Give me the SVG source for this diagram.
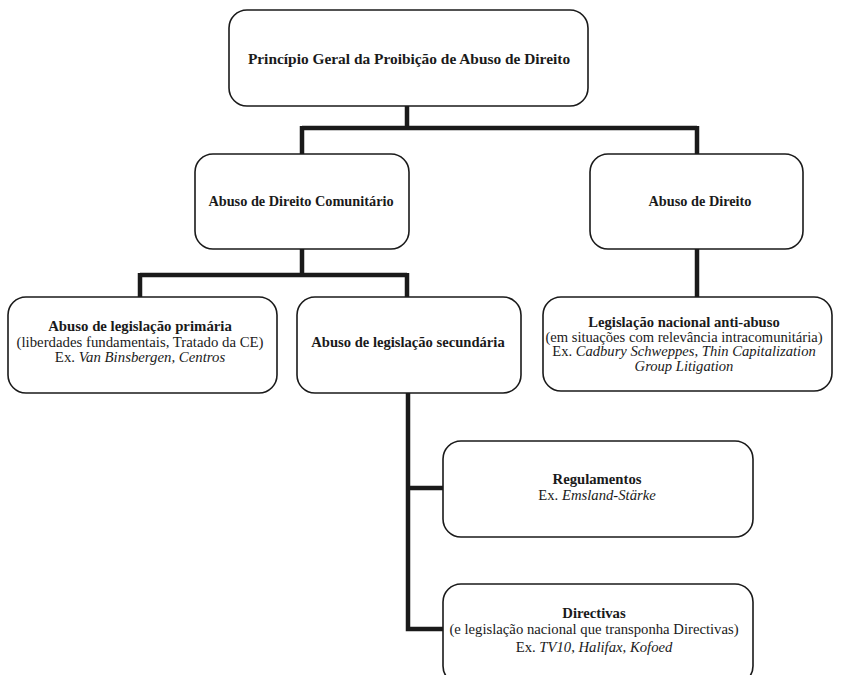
<svg xmlns="http://www.w3.org/2000/svg" width="841" height="675" viewBox="0 0 841 675">
<style>
.box{fill:#fff;stroke:#1a1a1a;stroke-width:1.6}
text{font-family:'Liberation Serif','DejaVu Serif',serif;fill:#1a1a1a;text-anchor:middle}
.b{font-weight:bold}
.i{font-style:italic}
.conn{fill:none;stroke:#1a1a1a;stroke-width:4.5;stroke-linejoin:miter;stroke-linecap:butt}
</style>
<rect width="841" height="675" fill="#fff"/>
<g id="connectors">
<path class="conn" d="M407,106 V128 M302,128 H697 M302,126 V154 M697,126 V154"/>
<path class="conn" d="M302,249 V275 M140,275 H407 M140,273 V297 M407,273 V297"/>
<path class="conn" d="M697,249 V297"/>
<path class="conn" d="M408,393 V629 H443 M408,488 H443"/>
</g>
<g id="n-principio">
<rect class="box" x="229" y="10" width="359" height="96" rx="18"/>
<text class="b" x="409" y="64" font-size="15.4">Princípio Geral da Proibição de Abuso de Direito</text>
</g>
<g id="n-comunitario">
<rect class="box" x="195" y="154" width="214" height="95" rx="18"/>
<text class="b" x="301" y="206" font-size="14.3">Abuso de Direito Comunitário</text>
</g>
<g id="n-direito">
<rect class="box" x="590" y="154" width="213" height="95" rx="18"/>
<text class="b" x="700" y="206" font-size="14.3">Abuso de Direito</text>
</g>
<g id="n-primaria">
<rect class="box" x="8" y="297" width="269" height="96" rx="18"/>
<text x="140" y="331" font-size="14.8"><tspan class="b">Abuso de legislação primária</tspan><tspan x="140" dy="15.5">(liberdades fundamentais, Tratado da CE)</tspan><tspan x="140" dy="15.5">Ex. <tspan class="i">Van Binsbergen, Centros</tspan></tspan></text>
</g>
<g id="n-secundaria">
<rect class="box" x="297" y="297" width="224" height="96" rx="18"/>
<text class="b" x="408" y="347" font-size="14.6">Abuso de legislação secundária</text>
</g>
<g id="n-nacional">
<rect class="box" x="543" y="297" width="289" height="94" rx="18"/>
<text x="684" y="327" font-size="14.6"><tspan class="b">Legislação nacional anti-abuso</tspan><tspan x="684" dy="14.5">(em situações com relevância intracomunitária)</tspan><tspan x="684" dy="14.5">Ex. <tspan class="i">Cadbury Schweppes</tspan>, <tspan class="i">Thin Capitalization</tspan></tspan><tspan x="684" dy="14.5" class="i">Group Litigation</tspan></text>
</g>
<g id="n-regulamentos">
<rect class="box" x="443" y="441" width="310" height="96" rx="18"/>
<text x="597" y="484" font-size="14.7"><tspan class="b">Regulamentos</tspan><tspan x="597" dy="16">Ex. <tspan class="i">Emsland-Stärke</tspan></tspan></text>
</g>
<g id="n-directivas">
<rect class="box" x="443" y="584" width="310" height="100" rx="18"/>
<text x="594" y="618" font-size="14.7"><tspan class="b">Directivas</tspan><tspan x="594" dy="16">(e legislação nacional que transponha Directivas)</tspan><tspan x="594" dy="18">Ex. <tspan class="i">TV10</tspan>, <tspan class="i">Halifax</tspan>, <tspan class="i">Kofoed</tspan></tspan></text>
</g>
</svg>
